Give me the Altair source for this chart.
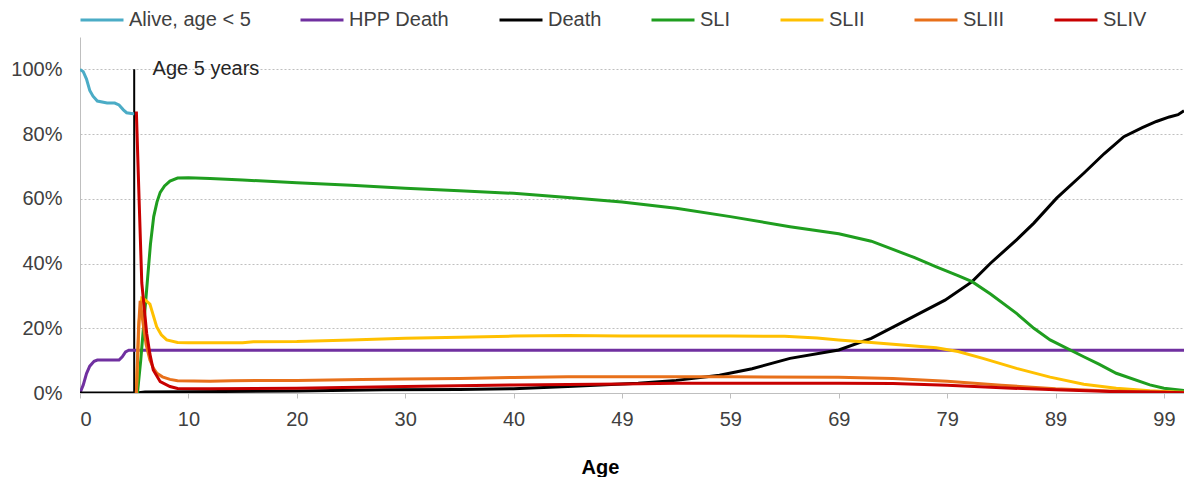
import altair as alt
import pandas as pd

# ---------------- data ----------------
series_names = ["Alive, age < 5", "HPP Death", "Death", "SLI", "SLII", "SLIII", "SLIV"]
series_colors = ["#4bacc6", "#7030a0", "#000000", "#1f9e1f", "#ffc000", "#e8701a", "#c80000"]

alive_age = [0, 0.3, 0.6, 0.9, 1.2, 1.6, 2.5, 3.2, 3.6, 4.0, 4.3, 4.9, 5.0]
alive_pct = [100, 99.3, 97, 93.5, 91.7, 90.2, 89.6, 89.6, 89.0, 87.5, 86.6, 86.3, 86.3]

hpp_age = [0, 0.3, 0.6, 0.9, 1.3, 1.6, 3.6, 3.9, 4.2, 4.5, 101.85]
hpp_pct = [0, 2.5, 6.0, 8.3, 9.8, 10.2, 10.2, 11.2, 12.7, 13.2, 13.2]

death_age = [0, 5.2, 6, 10, 20, 28, 35, 40, 45, 51.5, 55, 59, 62, 65.5, 70, 73, 76.3,
             79.8, 82.3, 84, 86.4, 88, 90.1, 92.6, 94.5, 96.3, 98, 99.3, 100.5, 101.3, 101.85]
death_pct = [0, 0, 0.3, 0.4, 0.6, 1.0, 1.1, 1.3, 2.0, 3.0, 3.9, 5.5, 7.5, 10.7, 13.3, 16.9, 22.6,
             28.7, 34.4, 40.1, 47.3, 52.5, 60.2, 67.9, 74.0, 79.2, 82.0, 83.9, 85.3, 86.0, 87.2]

sli_age = [5.3, 5.6, 5.9, 6.2, 6.5, 6.8, 7.1, 7.4, 7.8, 8.3, 9.0, 10, 12, 15, 20, 25, 30, 35,
           40, 45, 50, 55, 60, 65.5, 70, 73, 75, 77, 79, 81, 82.3, 84, 86.4, 88, 89.5, 92.6,
           94, 95.6, 98.7, 100, 101.85]
sli_pct = [0, 10, 22, 34, 46, 54.5, 59, 62, 64, 65.5, 66.4, 66.5, 66.3, 65.8, 65.0, 64.2, 63.3,
           62.5, 61.7, 60.4, 59.0, 57.1, 54.5, 51.4, 49.2, 46.9, 44.4, 41.8, 39.0, 36.3, 34.4,
           30.6, 24.6, 20.0, 16.4, 11.2, 8.9, 6.1, 2.5, 1.5, 0.8]

slii_age = [5.2, 5.45, 5.7, 6.0, 6.45, 7.07, 7.5, 8.0, 9.0, 10, 15, 16, 20, 25, 30, 35, 40, 45,
            50, 55, 60, 65, 68, 70, 73, 75, 79, 81, 83.3, 86.4, 89.5, 92.6, 95.6, 98.7, 100.5, 101.85]
slii_pct = [0, 22, 29.3, 28.8, 27.5, 20.5, 18.0, 16.4, 15.6, 15.5, 15.5, 15.8, 15.9, 16.4, 16.9,
            17.2, 17.6, 17.8, 17.6, 17.6, 17.6, 17.5, 17.0, 16.4, 15.6, 15.1, 14.0, 12.8, 10.7,
            7.6, 4.9, 2.7, 1.5, 0.7, 0.4, 0.2]

sliii_age = [5.2, 5.4, 5.55, 5.8, 6.1, 6.45, 6.8, 7.1, 7.6, 8.3, 9, 12, 14, 20, 26, 30, 35, 40,
             45, 50, 60, 70, 75, 80, 85, 90, 95, 100, 101.85]
sliii_pct = [0, 20, 28.5, 22, 15, 10.2, 7.5, 6.1, 5.0, 4.2, 3.8, 3.6, 3.8, 3.9, 4.2, 4.3, 4.5,
             4.8, 5.0, 5.0, 5.0, 4.9, 4.5, 3.6, 2.4, 1.3, 0.6, 0.2, 0.1]

sliv_age = [5.2, 5.45, 5.7, 6.15, 6.45, 6.76, 7.4, 8.3, 9, 12, 20, 30, 40, 50, 55, 60, 70, 75,
            80, 85, 90, 95, 100, 101.85]
sliv_pct = [87, 60, 34, 18.5, 12, 7.1, 3.5, 2.0, 1.4, 1.3, 1.5, 2.0, 2.5, 2.8, 3.0, 3.0, 3.0,
            2.9, 2.4, 1.6, 1.0, 0.5, 0.2, 0.1]

x_tick_values = [0, 10, 20, 30, 40, 50, 60, 70, 80, 90, 100]
y_tick_values = [0, 0.2, 0.4, 0.6, 0.8, 1.0]

marker_age = [5]
marker_label = ["Age 5 years"]
marker_label_age = [6.7]

# ---------------- build table ----------------
rows = []
for name, ages, pcts in zip(
    series_names,
    [alive_age, hpp_age, death_age, sli_age, slii_age, sliii_age, sliv_age],
    [alive_pct, hpp_pct, death_pct, sli_pct, slii_pct, sliii_pct, sliv_pct],
):
    for i, (a, p) in enumerate(zip(ages, pcts)):
        rows.append({"series": name, "age": a, "share": p / 100.0, "ord": i})
df = pd.DataFrame(rows)

rule_df = pd.DataFrame({"age": marker_age, "y0": [0.0], "y1": [1.0]})
text_df = pd.DataFrame({"age": marker_label_age, "y": [1.0], "label": marker_label})

FONT = "Liberation Sans"
x_scale = alt.Scale(domain=[0, 101.85], nice=False, zero=False)
y_scale = alt.Scale(domain=[0, 1.1], nice=False)

lines = alt.Chart(df).mark_line(strokeWidth=3, clip=True).encode(
    x=alt.X(
        "age:Q",
        scale=x_scale,
        axis=alt.Axis(
            values=x_tick_values,
            labelExpr="datum.value >= 50 ? format(datum.value - 1, 'd') : datum.label",
            grid=False,
            domainColor="#bfbfbf",
            tickColor="#bfbfbf",
            tickSize=5,
            labelPadding=11,
            labelFontSize=20,
            labelColor="#404040",
            labelFont=FONT,
            title="Age",
            titleFont=FONT,
            titleFontSize=20,
            titleFontWeight="bold",
            titleColor="#000000",
            titleX=520,
            titleY=80,
            titleAlign="center",
            titleBaseline="alphabetic",
        ),
    ),
    y=alt.Y(
        "share:Q",
        scale=y_scale,
        axis=alt.Axis(
            values=y_tick_values,
            format=".0%",
            grid=True,
            gridColor="#bfbfbf",
            gridDash=[2, 2],
            domainColor="#bfbfbf",
            ticks=False,
            labelPadding=18,
            labelFontSize=20,
            labelColor="#404040",
            labelFont=FONT,
            title=None,
        ),
    ),
    color=alt.Color(
        "series:N",
        scale=alt.Scale(domain=series_names, range=series_colors),
        sort=series_names,
        legend=alt.Legend(
            title=None,
            orient="none",
            direction="horizontal",
            columns=7,
            legendX=-1,
            legendY=-40,
            symbolType="stroke",
            symbolSize=1849,
            symbolStrokeWidth=3,
            labelFontSize=20,
            labelFont=FONT,
            labelColor="#404040",
            labelOffset=4,
            columnPadding=43,
        ),
    ),
    detail="series:N",
    order="ord:Q",
)

rule = alt.Chart(rule_df).mark_rule(color="#000000", strokeWidth=2).encode(
    x=alt.X("age:Q", scale=x_scale),
    y=alt.Y("y0:Q", scale=y_scale),
    y2="y1:Q",
)

label = alt.Chart(text_df).mark_text(
    align="left", baseline="middle", fontSize=20, font=FONT, color="#262626"
).encode(
    x=alt.X("age:Q", scale=x_scale),
    y=alt.Y("y:Q", scale=y_scale),
    text="label:N",
)

chart = (
    alt.layer(rule, lines, label)
    .properties(
        width=1104,
        height=356,
        autosize=alt.AutoSizeParams(type="none"),
        padding={"left": 72, "top": 29, "right": 0, "bottom": 84},
        background="#ffffff",
    )
    .configure_view(strokeWidth=0)
)

chart.save("out.html", embed_options={"renderer": "svg", "actions": False})
